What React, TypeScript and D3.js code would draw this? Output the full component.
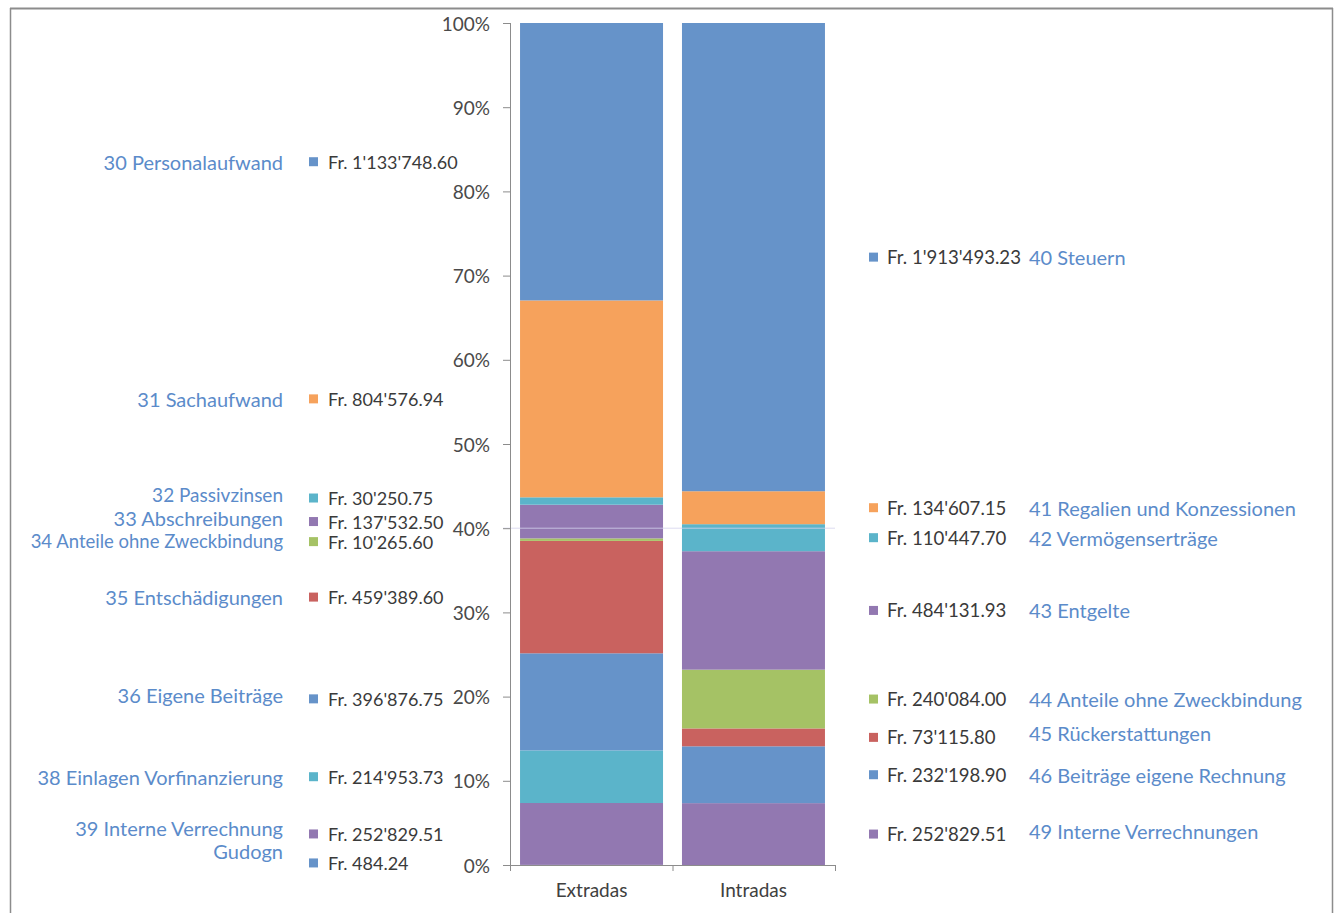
import React from "react";
import * as d3 from "d3";

const categories = ["Extradas", "Intradas"];

const extradasNames = [
  "Gudogn",
  "39 Interne Verrechnung",
  "38 Einlagen Vorfinanzierung",
  "36 Eigene Beiträge",
  "35 Entschädigungen",
  "34 Anteile ohne Zweckbindung",
  "33 Abschreibungen",
  "32 Passivzinsen",
  "31 Sachaufwand",
  "30 Personalaufwand",
];
const extradasValues = [
  484.24, 252829.51, 214953.73, 396876.75, 459389.6, 10265.6, 137532.5,
  30250.75, 804576.94, 1133748.6,
];
const extradasColorKeys = [
  "blue", "purple", "teal", "blue", "red", "green", "purple", "teal", "orange", "blue",
];

const intradasNames = [
  "49 Interne Verrechnungen",
  "46 Beiträge eigene Rechnung",
  "45 Rückerstattungen",
  "44 Anteile ohne Zweckbindung",
  "43 Entgelte",
  "42 Vermögenserträge",
  "41 Regalien und Konzessionen",
  "40 Steuern",
];
const intradasValues = [
  252829.51, 232198.9, 73115.8, 240084.0, 484131.93, 110447.7, 134607.15,
  1913493.23,
];
const intradasColorKeys = [
  "purple", "blue", "red", "green", "purple", "teal", "orange", "blue",
];

const yTicks = [0, 0.1, 0.2, 0.3, 0.4, 0.5, 0.6, 0.7, 0.8, 0.9, 1.0];

// styling
const palette: Record<string, string> = {
  blue: "#6693c9",
  orange: "#f6a25c",
  teal: "#5bb4ca",
  purple: "#9278b1",
  green: "#a5c265",
  red: "#c9625f",
};
const leftNameOffsets = [-12, -6, 0, -4, 0, -1, -4, -4, 0, 0];
const leftValueOffsets = [-2, 0, 0, -3, 0, 2, 0, -3, 0, 0];
const leftNameSizes = [20, 20, 20, 20, 20, 18.5, 20, 19, 20, 20];
const rightNameOffsets = [-3, 0, -4, 0, 0, 0, 0, 0];

const FONT = "Lato, 'Open Sans', sans-serif";
const NAME_COLOR = "#5b8bca";
const VALUE_COLOR = "#3a3a3a";

const locale = d3.formatLocale({
  decimal: ".",
  thousands: "'",
  grouping: [3],
  currency: ["Fr. ", ""],
});
const fmt = locale.format(",.2f");

function buildSegments(values: number[]) {
  const total = d3.sum(values);
  const ends = d3.cumsum(values.map((v) => v / total));
  return values.map((v, i) => ({
    y0: i === 0 ? 0 : ends[i - 1],
    y1: ends[i],
    value: v,
  }));
}

export default function App() {
  const W = 1336;
  const H = 913;
  const y = d3.scaleLinear().domain([0, 1]).range([865, 23]);
  const x = d3
    .scaleBand<string>()
    .domain(categories)
    .range([510, 835])
    .paddingInner(0.117)
    .paddingOuter(0.062);

  const extSeg = buildSegments(extradasValues);
  const intSeg = buildSegments(intradasValues);
  const bw = x.bandwidth();
  const pct = d3.format(".0%");

  return (
    <svg
      width={W}
      height={H}
      style={{ position: "absolute", left: 0, top: 0, background: "#fff" }}
      fontFamily={FONT}
    >
      <rect x={0} y={0} width={W} height={H} fill="#fff" />
      {/* frame */}
      <line x1={10} x2={1333} y1={8.5} y2={8.5} stroke="#8c8c8c" strokeWidth={2} />
      <line x1={10.5} x2={10.5} y1={8} y2={H} stroke="#8c8c8c" strokeWidth={1.5} />
      <line x1={1332.5} x2={1332.5} y1={8} y2={H} stroke="#8c8c8c" strokeWidth={1.5} />

      {/* bars */}
      {extSeg.map((s, i) => (
        <rect
          key={"e" + i}
          x={x("Extradas")}
          width={bw}
          y={y(s.y1)}
          height={y(s.y0) - y(s.y1)}
          fill={palette[extradasColorKeys[i]]}
        />
      ))}
      {intSeg.map((s, i) => (
        <rect
          key={"i" + i}
          x={x("Intradas")}
          width={bw}
          y={y(s.y1)}
          height={y(s.y0) - y(s.y1)}
          fill={palette[intradasColorKeys[i]]}
        />
      ))}

      {/* faint line at 40% */}
      <line x1={503} x2={835} y1={y(0.4)} y2={y(0.4)} stroke="#d6d4ee" strokeWidth={1} opacity={0.8} />

      {/* y axis */}
      <line x1={510.5} x2={510.5} y1={y(1)} y2={y(0)} stroke="#8c8c8c" />
      {yTicks.map((t) => (
        <g key={t}>
          <line x1={503} x2={510} y1={y(t) + 0.5} y2={y(t) + 0.5} stroke="#8c8c8c" />
          <text
            x={490}
            y={y(t)}
            textAnchor="end"
            dominantBaseline="central"
            fontSize={19}
            fill="#4a4a4a"
          >
            {pct(t)}
          </text>
        </g>
      ))}

      {/* x axis */}
      <line x1={510} x2={835} y1={y(0) + 0.5} y2={y(0) + 0.5} stroke="#8c8c8c" />
      {[510, (x("Intradas") as number) - (x.step() - bw) / 2, 835].map((px, i) => (
        <line key={i} x1={px + 0.5} x2={px + 0.5} y1={y(0)} y2={y(0) + 6} stroke="#8c8c8c" />
      ))}
      {categories.map((c) => (
        <text
          key={c}
          x={(x(c) as number) + bw / 2}
          y={889}
          textAnchor="middle"
          dominantBaseline="central"
          fontSize={19}
          fill="#404040"
        >
          {c}
        </text>
      ))}

      {/* left labels */}
      {extSeg.map((s, i) => {
        const cy = y((s.y0 + s.y1) / 2) + leftValueOffsets[i];
        return (
          <g key={"le" + i}>
            <text
              x={283}
              y={cy + leftNameOffsets[i]}
              textAnchor="end"
              dominantBaseline="central"
              fontSize={leftNameSizes[i]}
              fill={NAME_COLOR}
            >
              {extradasNames[i]}
            </text>
            <rect x={309} y={cy - 4.5} width={9} height={9} fill={palette[extradasColorKeys[i]]} />
            <text x={328} y={cy} dominantBaseline="central" fontSize={18} fill={VALUE_COLOR}>
              {"Fr. " + fmt(s.value)}
            </text>
          </g>
        );
      })}

      {/* right labels */}
      {intSeg.map((s, i) => {
        const cy = y((s.y0 + s.y1) / 2);
        return (
          <g key={"ri" + i}>
            <rect x={869} y={cy - 4.5} width={9} height={9} fill={palette[intradasColorKeys[i]]} />
            <text x={887} y={cy} dominantBaseline="central" fontSize={18.6} fill={VALUE_COLOR}>
              {"Fr. " + fmt(s.value)}
            </text>
            <text
              x={1029}
              y={cy + rightNameOffsets[i]}
              dominantBaseline="central"
              fontSize={20}
              fill={NAME_COLOR}
            >
              {intradasNames[i]}
            </text>
          </g>
        );
      })}
    </svg>
  );
}
